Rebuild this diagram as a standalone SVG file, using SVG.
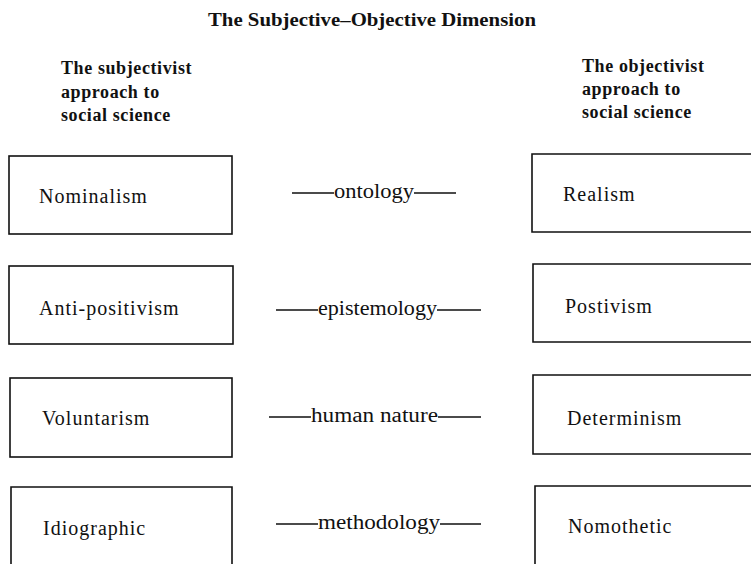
<svg xmlns="http://www.w3.org/2000/svg" width="751" height="564" viewBox="0 0 751 564">
<style>
.box{fill:#fff;stroke:#111;stroke-width:1.6}
.lbl{font-family:"Liberation Serif",serif;font-size:20px;letter-spacing:1px;fill:#111}
.mid{font-family:"Liberation Serif",serif;font-size:20px;fill:#111}
.hdr{font-family:"Liberation Serif",serif;font-size:18px;font-weight:bold;letter-spacing:0.6px;fill:#111}
.ttl{font-family:"Liberation Serif",serif;font-size:18px;font-weight:bold;fill:#111}
.con{stroke:#111;stroke-width:1.6;fill:none}
</style>
<rect width="751" height="564" fill="#fff"/>
<text class="ttl" x="208" y="26" textLength="328" lengthAdjust="spacingAndGlyphs">The Subjective–Objective Dimension</text>
<g id="header-left">
<text class="hdr" x="61" y="74">The subjectivist</text>
<text class="hdr" x="61" y="98">approach to</text>
<text class="hdr" x="61" y="121">social science</text>
</g>
<g id="header-right">
<text class="hdr" x="582" y="72">The objectivist</text>
<text class="hdr" x="582" y="95">approach to</text>
<text class="hdr" x="582" y="118">social science</text>
</g>
<g id="nominalism"><rect class="box" x="9" y="156" width="223" height="78"/><text class="lbl" x="39" y="203">Nominalism</text></g>
<g id="anti-positivism"><rect class="box" x="9" y="266" width="224" height="78"/><text class="lbl" x="39" y="315">Anti-positivism</text></g>
<g id="voluntarism"><rect class="box" x="10" y="378" width="222" height="79"/><text class="lbl" x="42" y="425">Voluntarism</text></g>
<g id="idiographic"><path class="box" d="M11,570 V487 H232 V570"/><text class="lbl" x="43" y="535">Idiographic</text></g>
<g id="realism"><path class="box" d="M760,154 H532 V232 H760"/><text class="lbl" x="563" y="201">Realism</text></g>
<g id="postivism"><path class="box" d="M760,264 H533 V342 H760"/><text class="lbl" x="565" y="313">Postivism</text></g>
<g id="determinism"><path class="box" d="M760,375 H533 V454 H760"/><text class="lbl" x="567" y="425">Determinism</text></g>
<g id="nomothetic"><path class="box" d="M760,486 H535 V570"/><text class="lbl" x="568" y="533">Nomothetic</text></g>
<g id="connectors">
<path class="con" d="M292,193 H334 M414,193 H456"/>
<path class="con" d="M276,310 H318 M437,310 H481"/>
<path class="con" d="M269,417 H311 M438,417 H481"/>
<path class="con" d="M276,524 H318 M440,524 H481"/>
</g>
<g id="connector-labels">
<text class="mid" x="334" y="198" textLength="80" lengthAdjust="spacingAndGlyphs">ontology</text>
<text class="mid" x="318" y="315" textLength="119" lengthAdjust="spacingAndGlyphs">epistemology</text>
<text class="mid" x="311" y="422" textLength="127" lengthAdjust="spacingAndGlyphs">human nature</text>
<text class="mid" x="318" y="529" textLength="122" lengthAdjust="spacingAndGlyphs">methodology</text>
</g>
</svg>
